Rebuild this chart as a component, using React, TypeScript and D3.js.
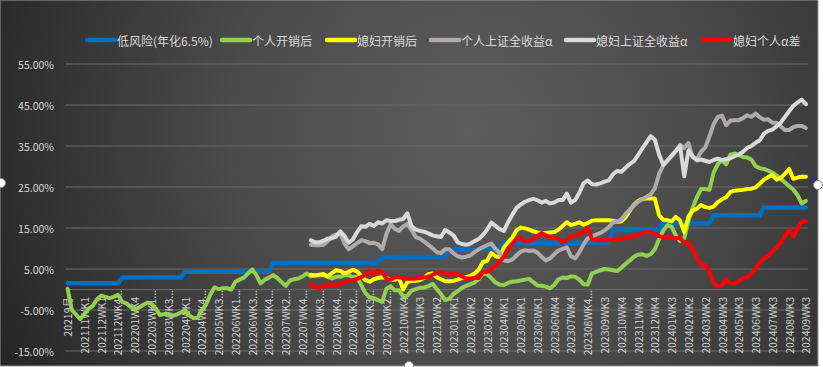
import React from 'react';
import * as d3 from 'd3';

const W = 823;
const H = 367;

// x-axis tick labels (every 4th category is labelled)
const tickLabels = [
  '20219月', '202111WK1', '202112WK1', '202112WK4...', '202201WK4', '202203WK1...', '202203WK3...',
  '202204WK1', '202204WK4...', '202205WK3...', '202206WK1...', '202206WK3...', '202206WK4...',
  '202207WK2...', '202207WK4...', '202208WK3...', '202208WK4...', '202209WK2...', '202209WK3...',
  '202210WK2...', '202210WK4', '202211WK3', '202212WK2', '202301WK1', '202302WK2', '202303WK2',
  '202304WK1', '202305WK1', '202306WK1', '202306WK4', '202307WK4', '202308WK4...', '202309WK3',
  '202310WK4', '202311WK4', '202312WK4', '202401WK3', '202402WK2', '202403WK2', '202404WK3',
  '202405WK3', '202406WK3', '202407WK3', '202408WK3', '202409WK3',
];
const LABEL_EVERY = 4;

const yTicks = [-15, -5, 5, 15, 25, 35, 45, 55];

// 低风险(年化6.5%) — full period
const lowRisk = [
  1.5, 1.5, 1.5, 1.5, 1.5, 1.5, 1.5, 1.5, 1.5, 1.5, 1.5, 1.5, 1.5,
  2.9, 2.9, 2.9, 2.9, 2.9, 2.9, 2.9, 2.9, 2.9, 2.9, 2.9, 2.9, 2.9, 2.9, 2.9,
  4.3, 4.3, 4.3, 4.3, 4.3, 4.3, 4.3, 4.3, 4.3, 4.3, 4.3, 4.3, 4.3, 4.3, 4.3, 4.3, 4.3, 4.3, 4.3, 4.3, 4.3,
  6.5, 6.5, 6.5, 6.5, 6.5, 6.5, 6.5, 6.5, 6.5, 6.5, 6.5, 6.5, 6.5, 6.5, 6.5, 6.5, 6.5, 6.5, 6.5, 6.5, 6.5, 6.5, 6.5, 6.5, 6.5, 6.5,
  7.9, 7.9, 7.9, 7.9, 7.9, 7.9, 7.9, 7.9, 7.9, 7.9, 7.9, 7.9, 7.9, 7.9, 7.9, 7.9,
  9.7, 9.7, 9.7, 9.7, 9.7, 9.7, 9.7, 9.7, 9.7, 9.7, 9.7, 9.7, 9.7,
  11.4, 11.4, 11.4, 11.4, 11.4, 11.4, 11.4, 11.4, 11.4, 11.4, 11.4, 11.4, 11.4, 11.4, 11.4, 11.4, 11.4, 11.4, 11.4, 11.4, 11.4, 11.4, 11.4, 11.4, 11.4, 11.4,
  14.5, 14.5, 14.5, 14.5, 14.5, 14.5, 14.5, 14.5, 14.5, 14.5, 14.5, 14.5,
  16.1, 16.1, 16.1, 16.1, 16.1, 16.1, 16.1, 16.1, 16.1, 16.1, 16.1, 16.1,
  18.1, 18.1, 18.1, 18.1, 18.1, 18.1, 18.1, 18.1, 18.1, 18.1, 18.1, 18.1,
  20.0, 20.0, 20.0, 20.0, 20.0, 20.0, 20.0, 20.0, 20.0, 20.0, 20.0,
];

// 个人开销后 — full period
const personalNet = [
  0.2, -5.0, -6.1, -7.2, -6.0, -4.7, -4.0, -2.4, -1.5, -1.8,
  -2.1, -1.8, -1.3, -3.0, -3.4, -4.2, -4.9, -4.4, -3.8, -3.2,
  -3.5, -4.6, -6.2, -6.0, -6.0, -6.4, -6.1, -5.6, -5.1, -6.3,
  -7.0, -6.9, -5.1, -3.7, -1.3, 0.5, 0.1, 0.3, 0.3, 0.0,
  1.9, 2.4, 2.9, 3.9, 4.9, 3.5, 1.5, 2.4, 2.9, 3.5,
  2.8, 1.8, 0.9, 2.2, 2.5, 2.7, 3.2, 3.9, 3.2, 3.5,
  3.5, 3.5, 3.1, 2.7, 3.1, 3.1, 3.5, 3.5, 3.0, 3.1,
  1.1, -0.9, -1.9, -2.1, -2.6, -3.0, 0.2, 0.8, -0.2, -0.2,
  -1.7, -1.5, -0.3, 0.1, 0.4, 0.5, 0.8, 1.4, 0.1, -1.1,
  -2.6, -2.2, -1.1, -0.4, 0.4, 0.9, 1.3, 1.7, 2.5, 3.9,
  3.7, 2.8, 1.7, 1.2, 1.1, 1.6, 1.9, 2.0, 2.2, 2.4,
  2.6, 1.8, 1.0, 0.9, 0.7, 0.3, 1.1, 2.5, 2.9, 2.8,
  3.2, 3.1, 2.4, 1.3, 1.2, 3.9, 4.3, 4.7, 5.0, 4.9,
  4.7, 4.5, 5.3, 6.2, 7.1, 8.0, 8.5, 8.6, 8.2, 8.6,
  9.8, 12.3, 14.4, 15.7, 15.3, 13.2, 11.8, 12.5, 16.8, 19.9,
  22.5, 24.5, 24.5, 24.3, 28.5, 30.6, 31.5, 30.5, 32.9, 33.2,
  32.8, 32.3, 32.2, 31.7, 30.1, 29.6, 29.4, 29.0, 28.5, 27.8,
  27.0, 26.1, 25.2, 24.4, 23.0, 21.0, 21.6,
];

// The following four series begin at this category index
const LATE_START = 58;

// 媳妇开销后
const wifeNet = [
  3.6, 3.4, 3.6, 3.8, 3.2, 4.0, 4.7, 4.5, 4.0, 4.3, 4.8, 4.4,
  3.3, 2.3, 1.9, 2.5, 2.8, 3.0, 2.8, 2.4, 2.4, 2.8,
  0.0, 1.8, 2.1, 2.1, 2.3, 2.8, 3.7, 3.9, 3.0, 2.5,
  2.0, 2.0, 2.1, 2.4, 2.8, 3.0, 3.3, 3.9, 4.8, 6.7,
  7.0, 8.9, 8.1, 7.9, 10.2, 11.5, 12.6, 14.4, 15.1, 14.9,
  14.6, 14.2, 13.9, 13.8, 13.8, 13.9, 14.0, 14.6, 15.5, 16.4,
  15.7, 16.0, 16.4, 15.8, 16.2, 16.8, 16.9, 16.9, 16.9, 16.9,
  16.8, 16.5, 16.6, 17.6, 19.2, 20.7, 21.6, 22.1, 22.2, 22.2,
  22.2, 18.1, 17.0, 16.9, 16.6, 17.7, 16.8, 14.0, 17.8, 19.2,
  19.7, 20.6, 20.1, 19.9, 20.2, 21.3, 22.0, 22.5, 23.8, 24.1,
  24.2, 24.3, 24.5, 24.6, 24.9, 25.8, 26.8, 27.4, 27.9, 26.8,
  27.2, 28.2, 29.4, 27.0, 27.3, 27.5, 27.5,
];

// 个人上证全收益α
const personalAlpha = [
  10.9, 10.8, 10.8, 10.9, 11.8, 12.9, 13.4, 13.8, 11.2, 9.8, 10.5, 11.3,
  12.0, 11.8, 11.3, 11.4, 11.0, 9.8, 13.5, 15.9, 14.8, 14.3,
  15.4, 16.0, 14.5, 12.8, 12.4, 11.7, 10.9, 10.1, 9.1, 8.9,
  9.8, 9.8, 8.8, 8.1, 7.8, 8.0, 8.3, 9.1, 9.8, 10.3,
  10.8, 11.2, 9.9, 8.9, 7.1, 6.9, 7.3, 8.3, 9.2, 9.6,
  9.4, 9.5, 9.0, 8.0, 7.1, 7.6, 8.6, 9.5, 9.9, 10.3,
  8.1, 7.6, 9.1, 11.0, 12.5, 12.9, 13.4, 13.8, 14.4, 15.2,
  16.3, 16.6, 17.1, 18.4, 19.5, 20.5, 21.4, 22.0, 22.6, 23.2,
  24.7, 28.2, 30.3, 31.6, 32.5, 33.8, 35.3, 34.5, 35.7, 32.2,
  31.8, 33.6, 34.6, 37.3, 40.3, 42.1, 42.4, 40.1, 41.2, 41.3,
  41.3, 41.8, 42.5, 42.1, 42.9, 42.0, 41.4, 41.5, 40.7, 40.7,
  39.8, 38.9, 38.9, 39.6, 39.9, 39.9, 39.4,
];

// 媳妇上证全收益α
const wifeAlpha = [
  12.0, 11.5, 11.5, 11.9, 12.4, 12.5, 12.9, 14.2, 13.1, 11.4, 12.2, 14.0,
  15.4, 15.3, 16.0, 15.5, 16.4, 16.1, 16.9, 16.7, 16.7, 17.0,
  17.2, 18.6, 15.4, 14.6, 14.3, 14.1, 13.7, 13.2, 13.0, 12.8,
  14.5, 13.9, 13.2, 11.5, 11.1, 10.9, 11.2, 11.8, 12.3, 13.3,
  14.6, 16.3, 15.5, 14.7, 14.3, 16.4, 18.2, 19.9, 20.7, 21.4,
  21.8, 22.1, 21.8, 21.2, 21.6, 21.0, 21.2, 21.8, 21.8, 23.4,
  21.2, 21.8, 23.6, 25.9, 26.6, 25.7, 25.6, 25.9, 26.3, 26.6,
  28.1, 28.9, 28.7, 29.7, 30.6, 31.3, 32.8, 34.4, 35.9, 37.4,
  36.5, 32.9, 30.4, 31.4, 32.7, 33.8, 35.0, 27.6, 33.9, 32.5,
  31.5, 31.7, 31.4, 31.1, 31.6, 31.9, 31.6, 31.8, 32.0, 32.5,
  32.9, 33.6, 34.5, 35.0, 35.8, 36.4, 38.0, 38.7, 39.0, 39.8,
  40.7, 42.1, 43.5, 44.8, 45.6, 46.3, 45.2,
];

// 媳妇个人α差
const alphaDiff = [
  1.3, 0.5, 0.4, 0.8, 1.1, 1.4, 0.8, 1.5, 1.7, 2.1, 2.3, 2.6,
  3.0, 3.6, 4.7, 3.6, 4.6, 4.2, 2.6, 2.4, 3.0, 3.0,
  2.8, 2.6, 2.6, 2.7, 2.8, 2.9, 3.1, 3.6, 4.0, 4.3,
  4.0, 3.6, 4.0, 3.7, 3.2, 2.6, 2.7, 2.8, 2.8, 4.2,
  4.3, 5.0, 5.8, 6.8, 8.0, 10.0, 11.1, 12.4, 12.6, 11.6,
  11.9, 12.3, 13.1, 13.8, 13.2, 12.8, 12.8, 12.4, 11.4, 12.1,
  12.9, 13.1, 13.6, 14.1, 15.1, 12.3, 12.0, 12.0, 12.0, 12.0,
  12.0, 12.0, 12.3, 12.6, 12.8, 13.1, 13.4, 13.9, 14.0, 14.0,
  13.6, 13.0, 12.7, 13.0, 12.6, 12.5, 12.6, 11.4, 11.4, 9.8,
  7.6, 6.0, 6.1, 4.3, 1.7, 0.7, 1.0, 2.5, 1.4, 1.4,
  2.0, 2.8, 3.0, 3.8, 5.0, 6.7, 7.5, 8.2, 9.2, 10.2,
  11.3, 13.1, 14.5, 12.9, 14.9, 16.6, 16.6,
];

const series = [
  { name: '低风险(年化6.5%)', color: '#0070C0', values: lowRisk, start: 0 },
  { name: '个人开销后', color: '#92D050', values: personalNet, start: 0 },
  { name: '媳妇开销后', color: '#FFFF00', values: wifeNet, start: LATE_START },
  { name: '个人上证全收益α', color: '#AFABAB', values: personalAlpha, start: LATE_START },
  { name: '媳妇上证全收益α', color: '#D9D9D9', values: wifeAlpha, start: LATE_START },
  { name: '媳妇个人α差', color: '#FF0000', values: alphaDiff, start: LATE_START },
];

const legendPos = [
  { x0: 87, tx: 117 },
  { x0: 222, tx: 252 },
  { x0: 327, tx: 357 },
  { x0: 431, tx: 461 },
  { x0: 566, tx: 596 },
  { x0: 703, tx: 733 },
];

const FONT = '"Noto Sans CJK SC", "Microsoft YaHei", sans-serif';

export default function App() {
  const plot = { left: 65.5, right: 808, top: 64, bottom: 351 };
  const n = personalNet.length;
  const x = d3.scaleBand<number>().domain(d3.range(n)).range([plot.left, plot.right]);
  const cx = (i: number) => (x(i) as number) + x.bandwidth() / 2;
  const y = d3.scaleLinear().domain([-15, 55]).range([plot.bottom, plot.top]);
  const line = d3
    .line<[number, number]>()
    .x((d) => cx(d[0]))
    .y((d) => y(d[1]));

  return (
    <svg
      width={W}
      height={H}
      style={{ position: 'absolute', left: 0, top: 0, display: 'block' }}
      fontFamily={FONT}
    >
      <defs>
        <radialGradient id="bg" gradientUnits="userSpaceOnUse" cx={470} cy={130} r={520}>
          <stop offset="0" stopColor="#5d5d5d" />
          <stop offset="0.45" stopColor="#4b4b4b" />
          <stop offset="1" stopColor="#262626" />
        </radialGradient>
      </defs>
      <rect x={0} y={0} width={W} height={H} fill="#ffffff" />
      <rect x={0} y={0} width={818} height={366} fill="url(#bg)" stroke="#9a9a9a" strokeWidth={1} />

      {/* gridlines */}
      {yTicks.map((t) => (
        <line key={t} x1={plot.left} x2={plot.right} y1={y(t)} y2={y(t)} stroke="#6a6a6a" strokeWidth={1} />
      ))}
      {/* category axis at 0 */}
      <line x1={plot.left} x2={plot.right} y1={y(0)} y2={y(0)} stroke="#6a6a6a" strokeWidth={1} />

      {/* y tick labels */}
      {yTicks.map((t) => (
        <text
          key={'yl' + t}
          x={54}
          y={y(t)}
          textAnchor="end"
          dominantBaseline="central"
          fontSize={10.5}
          fill="#d9d9d9"
        >
          {t.toFixed(2) + '%'}
        </text>
      ))}

      {/* x tick labels */}
      {tickLabels.map((lab, k) => {
        const px = cx(k * LABEL_EVERY);
        const top = lab.endsWith('...') ? 290 : 297;
        return (
          <text
            key={'xl' + k}
            transform={`translate(${px},${top}) rotate(-90)`}
            textAnchor="end"
            dominantBaseline="central"
            fontSize={10.5}
            fill="#d0d0d0"
          >
            {lab}
          </text>
        );
      })}

      {/* series */}
      {series.map((s) => {
        const pts: [number, number][] = s.values.map((v, j) => [j + s.start, v]);
        return (
          <path
            key={s.name}
            d={line(pts) || ''}
            fill="none"
            stroke={s.color}
            strokeWidth={s.start === 0 && s.color === '#0070C0' ? 4.5 : 4}
            strokeLinejoin="round"
            strokeLinecap="round"
          />
        );
      })}

      {/* legend */}
      {series.map((s, k) => (
        <g key={'lg' + k}>
          <line
            x1={legendPos[k].x0}
            x2={legendPos[k].x0 + 28}
            y1={40}
            y2={40}
            stroke={s.color}
            strokeWidth={4.5}
            strokeLinecap="round"
          />
          <text x={legendPos[k].tx} y={40} dominantBaseline="central" fontSize={12} fill="#d9d9d9">
            {s.name}
          </text>
        </g>
      ))}

      {/* selection handles */}
      {[
        [1, 183],
        [818, 185],
        [409, 366],
      ].map(([hx, hy], k) => (
        <circle key={'h' + k} cx={hx} cy={hy} r={4.5} fill="#ffffff" stroke="#8a8a8a" strokeWidth={1} />
      ))}
    </svg>
  );
}
